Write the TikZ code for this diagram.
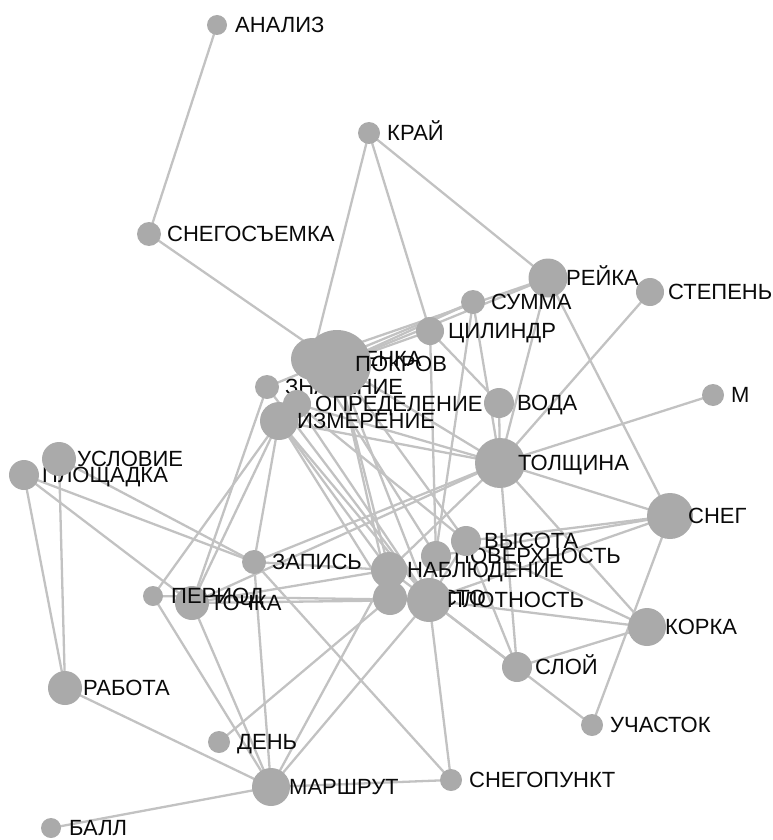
\documentclass[tikz,border=0pt]{standalone}
\usepackage{fontspec}
\setmainfont{Liberation Sans}
\definecolor{nodegray}{HTML}{AAAAAA}
\definecolor{edgegray}{HTML}{C2C2C2}
\definecolor{labelink}{HTML}{0A0A0A}
\pgfdeclarelayer{edges}
\pgfsetlayers{edges,main}
% one vertex: name, x, y, diameter, label
\newcommand\vtx[5]{%
  \node[vert=#4] (#1) at (#2,#3) {};
  \node[lbl] (#1-l) at (#2+18,#3+7.5) {#5};}
\begin{document}
\begin{tikzpicture}[x=1pt,y=-1pt,
  vert/.style={circle,fill=nodegray,inner sep=0pt,minimum size=#1},
  lbl/.style={anchor=base west,inner sep=0pt,text=labelink,
    font=\fontsize{22}{25}\selectfont},
  link/.style={draw=edgegray,line width=2.3pt}]
\useasboundingbox (0,0) rectangle (772,840);

\vtx{analiz}{217}{25}{20}{АНАЛИЗ}
\vtx{kraj}{369}{133}{22}{КРАЙ}
\vtx{snegos}{149}{234}{24}{СНЕГОСЪЕМКА}
\vtx{rejka}{548}{278}{39}{РЕЙКА}
\vtx{stepen}{650}{292}{28}{СТЕПЕНЬ}
\vtx{summa}{473}{302}{24}{СУММА}
\vtx{cil}{430}{331}{28}{ЦИЛИНДР}
\vtx{znach}{267}{387}{24}{ЗНАЧЕНИЕ}
\vtx{ocenka}{312}{359}{42}{ОЦЕНКА}
\vtx{pokrov}{337}{364}{68}{ПОКРОВ}
\vtx{opred}{297}{404}{28}{ОПРЕДЕЛЕНИЕ}
\vtx{izmer}{279}{421}{38}{ИЗМЕРЕНИЕ}
\vtx{voda}{499}{403}{30}{ВОДА}
\vtx{m}{713}{395}{22}{М}
\vtx{tolsh}{500}{463}{50}{ТОЛЩИНА}
\vtx{ploshch}{24}{475}{30}{ПЛОЩАДКА}
\vtx{uslov}{59}{459}{34}{УСЛОВИЕ}
\vtx{sneg}{670}{516}{46}{СНЕГ}
\vtx{pover}{436}{556}{30}{ПОВЕРХНОСТЬ}
\vtx{vysota}{466}{541}{30}{ВЫСОТА}
\vtx{nabl}{389}{570}{36}{НАБЛЮДЕНИЕ}
\vtx{zapis}{254}{562}{24}{ЗАПИСЬ}
\vtx{mesto}{390}{598}{34}{МЕСТО}
\vtx{plotn}{429}{600}{44}{ПЛОТНОСТЬ}
\vtx{tochka}{192}{603}{34}{ТОЧКА}
\vtx{period}{153}{596}{20}{ПЕРИОД}
\vtx{korka}{647}{627}{38}{КОРКА}
\vtx{sloj}{517}{667}{30}{СЛОЙ}
\vtx{uchast}{592}{725}{22}{УЧАСТОК}
\vtx{rabota}{65}{688}{34}{РАБОТА}
\vtx{den}{219}{742}{22}{ДЕНЬ}
\vtx{marsh}{271}{787}{38}{МАРШРУТ}
\vtx{snegop}{451}{780}{22}{СНЕГОПУНКТ}
\vtx{ball}{51}{828}{20}{БАЛЛ}

\begin{pgfonlayer}{edges}
\foreach \a/\b in {
  analiz/snegos, snegos/pokrov, kraj/ocenka, kraj/cil, kraj/rejka,
  pokrov/rejka, pokrov/summa, ocenka/rejka, znach/summa, pokrov/cil,
  rejka/sneg, rejka/tolsh, stepen/tolsh, summa/plotn, summa/tolsh,
  cil/pover, cil/voda, m/tolsh, tolsh/sneg, tolsh/pokrov, tolsh/izmer,
  tolsh/opred, tolsh/zapis, tolsh/korka, tolsh/sloj, tolsh/nabl,
  tolsh/tochka, voda/tolsh, sneg/vysota, sneg/pover, sneg/plotn,
  sneg/uchast, korka/vysota, korka/sloj, korka/plotn, plotn/uchast,
  vysota/sloj, izmer/tochka, izmer/period, izmer/zapis, izmer/nabl,
  izmer/plotn, izmer/mesto, opred/plotn, opred/vysota, pokrov/plotn,
  pokrov/vysota, pokrov/nabl, pokrov/mesto, znach/tochka, znach/plotn,
  ocenka/pover, zapis/nabl, zapis/marsh, zapis/snegop, zapis/ploshch,
  zapis/uslov, period/plotn, tochka/plotn, tochka/nabl, tochka/marsh,
  period/marsh, ploshch/tochka, ploshch/rabota, uslov/rabota,
  rabota/marsh, ball/marsh, den/mesto, marsh/plotn, marsh/nabl,
  marsh/snegop, plotn/snegop, nabl/plotn, mesto/plotn, plotn/sloj,
  plotn/vysota}
  \draw[link] (\a.center) -- (\b.center);
\end{pgfonlayer}
\end{tikzpicture}
\end{document}
